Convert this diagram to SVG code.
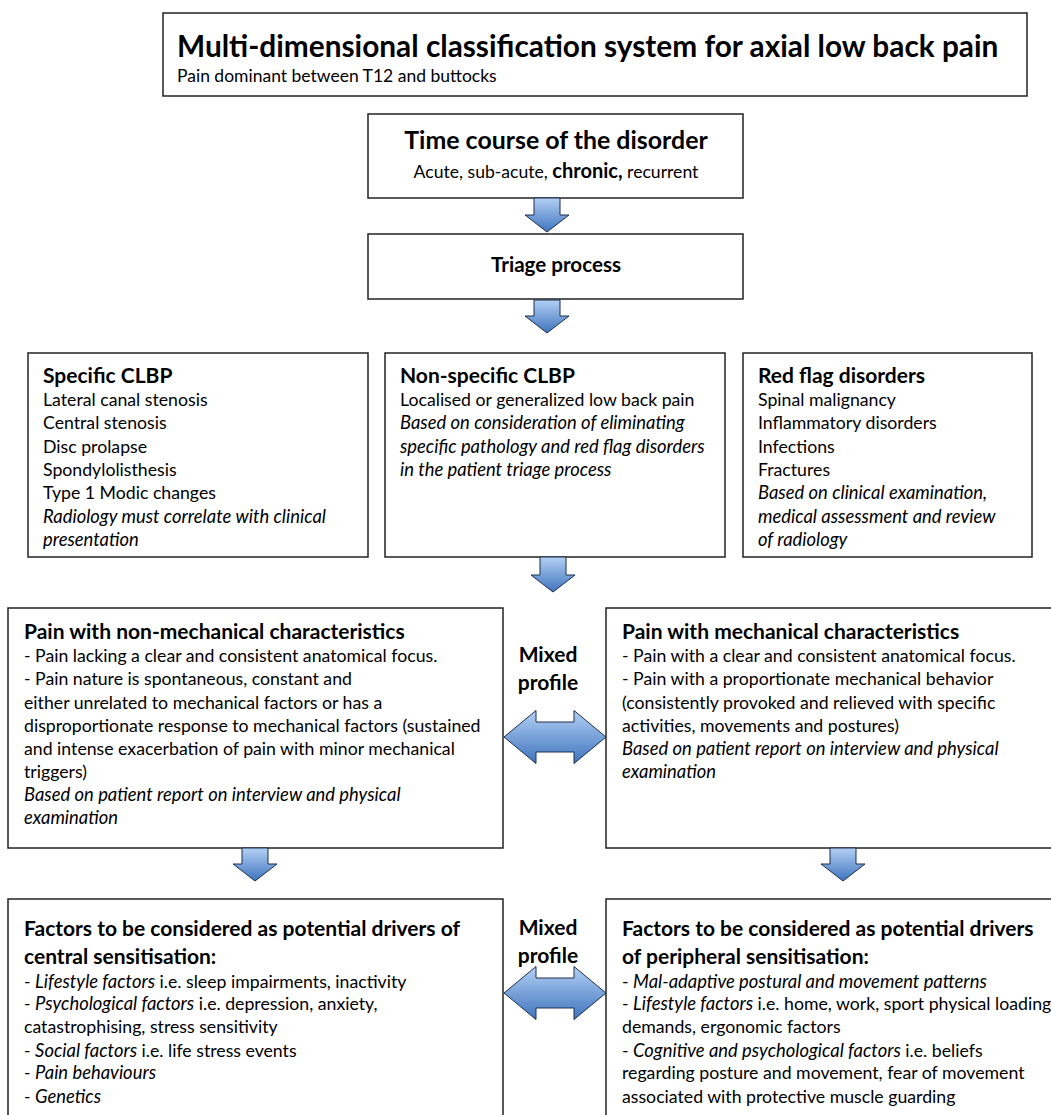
<svg xmlns="http://www.w3.org/2000/svg" width="1051" height="1115" viewBox="0 0 1051 1115">
<defs>
<linearGradient id="blue" x1="0" y1="0" x2="0" y2="1">
<stop offset="0" stop-color="#b3d0f5"/>
<stop offset="1" stop-color="#3f74bd"/>
</linearGradient>
<style>
.box{fill:#fff;stroke:#222;stroke-width:1.5}
.arr{fill:url(#blue);stroke:#1c2f4a;stroke-width:1}
text{font-family:Lato,"Liberation Sans",sans-serif;fill:#000}
.b{font-size:17.7px}
.h{font-size:21px;font-weight:bold}
.i{font-style:italic;font-size:18.4px}
.m{font-size:21px;font-weight:bold;text-anchor:middle}
</style>
</defs>
<rect width="1051" height="1115" fill="#fff"/>

<g id="title">
<rect class="box" x="163" y="13" width="864" height="83"/>
<text x="177" y="57" style="font-size:29.8px;font-weight:bold">Multi-dimensional classification system for axial low back pain</text>
<text x="177" y="82" style="font-size:17.5px">Pain dominant between T12 and buttocks</text>
</g>

<g id="timecourse">
<rect class="box" x="368" y="114" width="375" height="84"/>
<text x="556" y="149" style="font-size:24.9px;font-weight:bold" text-anchor="middle">Time course of the disorder</text>
<text x="556" y="178" style="font-size:17.6px" text-anchor="middle">Acute, sub-acute, <tspan style="font-weight:bold;font-size:20px">chronic,</tspan> recurrent</text>
</g>

<g id="triage">
<rect class="box" x="368" y="234" width="375" height="65"/>
<text x="556" y="272" style="font-size:20.6px;font-weight:bold" text-anchor="middle">Triage process</text>
</g>

<g id="specific">
<rect class="box" x="28" y="353" width="340" height="204"/>
<text class="h" x="43" y="383">Specific CLBP</text>
<text class="b" x="43" y="406">Lateral canal stenosis</text>
<text class="b" x="43" y="429">Central stenosis</text>
<text class="b" x="43" y="453">Disc prolapse</text>
<text class="b" x="43" y="476">Spondylolisthesis</text>
<text class="b" x="43" y="499">Type 1 Modic changes</text>
<text class="b i" x="43" y="523">Radiology must correlate with clinical</text>
<text class="b i" x="43" y="546">presentation</text>
</g>

<g id="nonspecific">
<rect class="box" x="385" y="353" width="340" height="204"/>
<text class="h" x="400" y="383">Non-specific CLBP</text>
<text class="b" x="400" y="406">Localised or generalized low back pain</text>
<text class="b i" x="400" y="429">Based on consideration of eliminating</text>
<text class="b i" x="400" y="453">specific pathology and red flag disorders</text>
<text class="b i" x="400" y="476">in the patient triage process</text>
</g>

<g id="redflag">
<rect class="box" x="743" y="353" width="289" height="204"/>
<text class="h" x="758" y="383">Red flag disorders</text>
<text class="b" x="758" y="406">Spinal malignancy</text>
<text class="b" x="758" y="429">Inflammatory disorders</text>
<text class="b" x="758" y="453">Infections</text>
<text class="b" x="758" y="476">Fractures</text>
<text class="b i" x="758" y="499">Based on clinical examination,</text>
<text class="b i" x="758" y="523">medical assessment and review</text>
<text class="b i" x="758" y="546">of radiology</text>
</g>

<g id="nonmechanical">
<rect class="box" x="8" y="608" width="495" height="240"/>
<text class="h" x="24" y="639">Pain with non-mechanical characteristics</text>
<text class="b" x="24" y="662">- Pain lacking a clear and consistent anatomical focus.</text>
<text class="b" x="24" y="685">- Pain nature is spontaneous, constant and</text>
<text class="b" x="24" y="709">either unrelated to mechanical factors or has a</text>
<text class="b" x="24" y="732">disproportionate response to mechanical factors (sustained</text>
<text class="b" x="24" y="755">and intense exacerbation of pain with minor mechanical</text>
<text class="b" x="24" y="778">triggers)</text>
<text class="b i" x="24" y="801">Based on patient report on interview and physical</text>
<text class="b i" x="24" y="824">examination</text>
</g>

<g id="mechanical">
<rect class="box" x="606" y="608" width="460" height="240"/>
<text class="h" x="622" y="639">Pain with mechanical characteristics</text>
<text class="b" x="622" y="662">- Pain with a clear and consistent anatomical focus.</text>
<text class="b" x="622" y="685">- Pain with a proportionate mechanical behavior</text>
<text class="b" x="622" y="709">(consistently provoked and relieved with specific</text>
<text class="b" x="622" y="732">activities, movements and postures)</text>
<text class="b i" x="622" y="755">Based on patient report on interview and physical</text>
<text class="b i" x="622" y="778">examination</text>
</g>

<g id="mixed1">
<text class="m" x="548" y="662">Mixed</text>
<text class="m" x="548" y="690">profile</text>
</g>

<g id="central">
<rect class="box" x="8" y="899" width="495" height="230"/>
<text class="h" x="24" y="936">Factors to be considered as potential drivers of</text>
<text class="h" x="24" y="964">central sensitisation:</text>
<text class="b" x="24" y="988">- <tspan class="i">Lifestyle factors</tspan> i.e. sleep impairments, inactivity</text>
<text class="b" x="24" y="1010">- <tspan class="i">Psychological factors</tspan> i.e. depression, anxiety,</text>
<text class="b" x="24" y="1033">catastrophising, stress sensitivity</text>
<text class="b" x="24" y="1057">- <tspan class="i">Social factors</tspan> i.e. life stress events</text>
<text class="b" x="24" y="1079">- <tspan class="i">Pain behaviours</tspan></text>
<text class="b" x="24" y="1103">- <tspan class="i">Genetics</tspan></text>
</g>

<g id="peripheral">
<rect class="box" x="606" y="899" width="460" height="230"/>
<text class="h" x="622" y="936">Factors to be considered as potential drivers</text>
<text class="h" x="622" y="964">of peripheral sensitisation:</text>
<text class="b" x="622" y="988">- <tspan class="i">Mal-adaptive postural and movement patterns</tspan></text>
<text class="b" x="622" y="1010">- <tspan class="i">Lifestyle factors</tspan> i.e. home, work, sport physical loading</text>
<text class="b" x="622" y="1033">demands, ergonomic factors</text>
<text class="b" x="622" y="1057">- <tspan class="i">Cognitive and psychological factors</tspan> i.e. beliefs</text>
<text class="b" x="622" y="1079">regarding posture and movement, fear of movement</text>
<text class="b" x="622" y="1103">associated with protective muscle guarding</text>
</g>

<g id="mixed2">
<text class="m" x="548" y="935">Mixed</text>
<text class="m" x="548" y="963">profile</text>
</g>

<g id="connectors">
<path class="arr" d="M534,198 L560,198 L560,215 L569,215 L547,232 L525,215 L534,215 Z"/>
<path class="arr" d="M534,300 L560,300 L560,316 L569,316 L547,333 L525,316 L534,316 Z"/>
<path class="arr" d="M540,557 L566,557 L566,575 L575,575 L553,592 L531,575 L540,575 Z"/>
<path class="arr" d="M242,848 L268,848 L268,864 L277,864 L255,881 L233,864 L242,864 Z"/>
<path class="arr" d="M830,848 L856,848 L856,864 L865,864 L843,881 L821,864 L830,864 Z"/>
<path class="arr" d="M504,737 L536,710.5 L536,722 L574,722 L574,710.5 L606,737 L574,763.5 L574,752 L536,752 L536,763.5 Z"/>
<path class="arr" d="M504,993 L536,966.5 L536,978 L574,978 L574,966.5 L606,993 L574,1019.5 L574,1008 L536,1008 L536,1019.5 Z"/>
</g>
</svg>
